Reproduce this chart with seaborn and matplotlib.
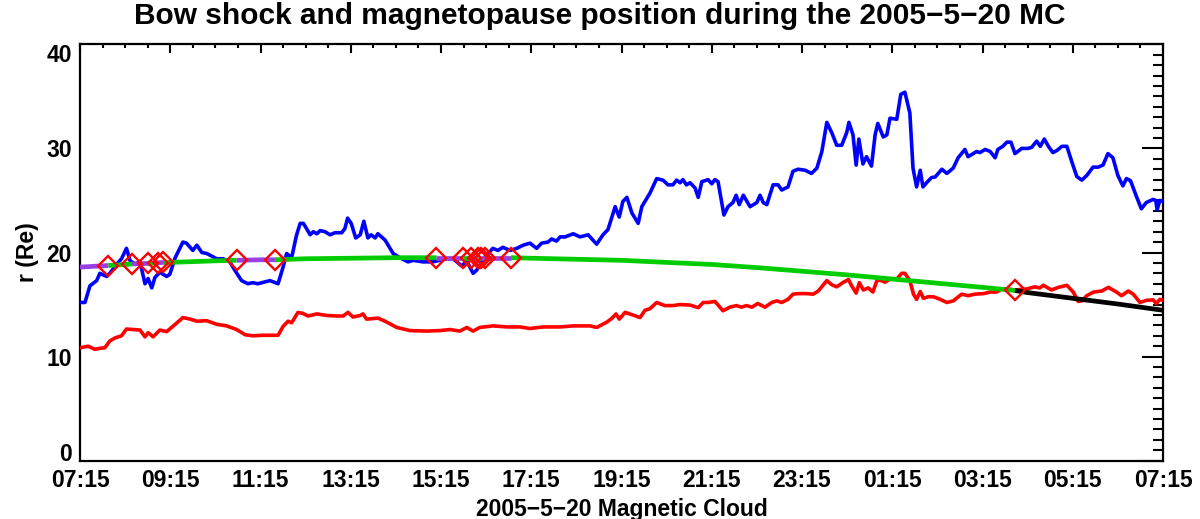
import numpy as np
import pandas as pd
import matplotlib
matplotlib.use("Agg")
import matplotlib.pyplot as plt
from matplotlib.ticker import MultipleLocator, FixedLocator, FixedFormatter
import seaborn as sns

# Time axis: hours elapsed since 2005-05-20 07:15 UT
tick_hours = [0, 2, 4, 6, 8, 10, 12, 14, 16, 18, 20, 22, 24]
tick_labels = ["07:15", "09:15", "11:15", "13:15", "15:15", "17:15", "19:15",
               "21:15", "23:15", "01:15", "03:15", "05:15", "07:15"]

# Observed bow shock distance (Re)
bs_hours = [0.00, 0.11, 0.22, 0.37, 0.44, 0.59, 0.66, 0.84, 0.92, 1.03, 1.11, 1.22, 1.33,
            1.44, 1.51, 1.59, 1.66, 1.77, 1.92, 1.99, 2.11, 2.28, 2.36, 2.50, 2.59, 2.70,
            2.81, 3.03, 3.17, 3.32, 3.43, 3.58, 3.72, 3.83, 3.94, 4.21, 4.39, 4.50, 4.58,
            4.69, 4.80, 4.88, 4.95, 5.02, 5.10, 5.17, 5.25, 5.32, 5.43, 5.54, 5.65, 5.80,
            5.87, 5.93, 6.01, 6.11, 6.21, 6.29, 6.38, 6.45, 6.54, 6.60, 6.76, 6.94, 7.09,
            7.27, 7.38, 7.60, 7.82, 8.13, 8.27, 8.46, 8.57, 8.71, 8.79, 8.98, 9.15, 9.26,
            9.37, 9.53, 9.68, 9.82, 9.97, 10.12, 10.23, 10.37, 10.45, 10.56, 10.64, 10.75,
            10.93, 11.08, 11.26, 11.45, 11.59, 11.70, 11.86, 11.95, 12.03, 12.12, 12.23,
            12.37, 12.45, 12.63, 12.78, 12.92, 13.03, 13.14, 13.22, 13.30, 13.36, 13.44,
            13.52, 13.63, 13.70, 13.78, 13.92, 14.00, 14.07, 14.14, 14.27, 14.36, 14.47,
            14.54, 14.61, 14.70, 14.85, 15.00, 15.07, 15.14, 15.22, 15.36, 15.47, 15.55,
            15.69, 15.80, 15.91, 16.07, 16.21, 16.33, 16.44, 16.55, 16.66, 16.77, 16.88,
            16.99, 17.04, 17.13, 17.20, 17.26, 17.35, 17.43, 17.54, 17.62, 17.68, 17.80,
            17.88, 17.95, 18.10, 18.19, 18.28, 18.39, 18.46, 18.54, 18.62, 18.68, 18.76,
            18.87, 18.95, 19.10, 19.21, 19.35, 19.46, 19.61, 19.68, 19.87, 19.94, 20.06,
            20.17, 20.28, 20.34, 20.45, 20.54, 20.63, 20.72, 20.87, 21.01, 21.09, 21.20,
            21.28, 21.37, 21.46, 21.56, 21.65, 21.76, 21.87, 21.98, 22.09, 22.20, 22.31,
            22.45, 22.56, 22.67, 22.78, 22.89, 23.00, 23.11, 23.19, 23.28, 23.41, 23.52,
            23.63, 23.78, 23.84, 23.87, 23.93, 24.00]
bs_r = [15.2, 15.2, 16.8, 17.3, 18.0, 17.7, 18.0, 19.0, 19.4, 20.4, 19.2, 18.9, 19.1,
        17.0, 17.5, 16.6, 17.6, 18.1, 17.7, 17.9, 19.5, 21.0, 20.9, 20.2, 20.7, 20.0,
        19.9, 19.4, 19.4, 19.1, 18.3, 17.3, 17.0, 17.1, 17.0, 17.3, 17.0, 18.6, 19.9,
        19.5, 21.7, 22.8, 22.8, 22.3, 21.7, 22.0, 21.8, 22.1, 22.0, 21.7, 21.9, 21.9,
        22.3, 23.3, 22.8, 21.4, 21.7, 23.0, 21.4, 21.7, 21.4, 21.8, 21.2, 19.9, 19.5,
        19.1, 19.25, 19.1, 19.1, 19.4, 19.4, 18.7, 19.2, 18.0, 18.3, 19.6, 20.4, 20.2,
        20.5, 20.2, 20.4, 20.7, 20.9, 20.4, 20.9, 21.0, 21.3, 21.1, 21.5, 21.5,
        21.8, 21.5, 21.7, 20.8, 21.7, 22.2, 24.4, 23.4, 24.9, 25.3, 23.8,
        22.8, 24.4, 25.7, 27.1, 26.95, 26.5, 26.5, 26.95, 26.7, 27.0, 26.5,
        26.7, 26.2, 25.3, 26.8, 27.0, 26.6, 27.0, 26.8, 23.6, 24.4, 24.8,
        25.5, 24.6, 25.5, 24.4, 24.8, 25.5, 24.8, 24.6, 26.5, 26.5, 26.0,
        26.3, 27.8, 28.0, 27.9, 27.6, 28.1, 29.7, 32.5, 31.5, 30.3, 30.3,
        31.5, 32.5, 31.3, 28.4, 30.9, 28.5, 29.2, 28.3, 31.3, 32.4, 31.1,
        31.3, 32.9, 32.8, 35.2, 35.4, 33.4, 28.1, 26.3, 27.9, 26.3, 26.7,
        27.2, 27.25, 28.0, 27.6, 28.1, 29.1, 29.9, 29.2, 29.7, 29.6, 29.9,
        29.7, 29.1, 29.9, 30.2, 30.6, 30.6, 29.5, 30.0, 30.0, 30.1, 30.7,
        30.2, 30.9, 30.2, 29.6, 29.8, 30.2, 30.2, 28.7, 27.3, 26.95, 27.4,
        28.2, 28.2, 28.4, 29.5, 29.1, 27.4, 26.4, 27.1, 26.9, 25.4, 24.2,
        24.8, 25.1, 25.0, 24.1, 25.0, 24.9]

# Observed magnetopause distance (Re)
mp_hours = [0.00, 0.18, 0.33, 0.44, 0.55, 0.66, 0.78, 0.92, 1.03, 1.33, 1.44, 1.51, 1.62,
            1.77, 1.92, 2.11, 2.28, 2.44, 2.59, 2.81, 3.03, 3.25, 3.47, 3.66, 3.83, 4.06,
            4.28, 4.39, 4.50, 4.61, 4.69, 4.83, 4.94, 5.05, 5.25, 5.47, 5.69, 5.83, 5.94,
            6.05, 6.21, 6.27, 6.35, 6.49, 6.60, 6.76, 7.02, 7.31, 7.68, 7.98, 8.20, 8.42,
            8.57, 8.71, 8.86, 9.15, 9.46, 9.75, 9.97, 10.26, 10.64, 10.93, 11.30, 11.45,
            11.67, 11.78, 11.88, 11.95, 12.08, 12.25, 12.41, 12.52, 12.63, 12.78, 12.96,
            13.14, 13.30, 13.52, 13.70, 13.81, 13.92, 14.07, 14.25, 14.40, 14.55, 14.66,
            14.77, 14.89, 15.02, 15.18, 15.33, 15.44, 15.55, 15.69, 15.80, 15.91, 16.10,
            16.25, 16.36, 16.55, 16.66, 16.77, 16.92, 17.03, 17.10, 17.20, 17.27, 17.36,
            17.47, 17.57, 17.66, 17.73, 17.84, 17.95, 18.10, 18.21, 18.28, 18.39, 18.47,
            18.54, 18.62, 18.69, 18.80, 18.91, 19.06, 19.21, 19.35, 19.54, 19.68, 19.83,
            20.02, 20.17, 20.31, 20.43, 20.54, 20.72, 20.98, 21.16, 21.27, 21.35, 21.53,
            21.68, 21.87, 22.01, 22.12, 22.20, 22.31, 22.46, 22.64, 22.79, 22.97, 23.08,
            23.23, 23.34, 23.49, 23.63, 23.78, 23.85, 23.93, 24.00]
mp_r = [10.85, 11.0, 10.7, 10.8, 10.85, 11.5, 11.8, 12.0, 12.65, 12.55, 11.9, 12.3, 11.9,
        12.55, 12.4, 13.1, 13.75, 13.6, 13.4, 13.45, 13.1, 12.95, 12.6, 12.1, 12.0, 12.05,
        12.05, 12.05, 12.9, 13.4, 13.25, 14.25, 14.15, 13.9, 14.1, 13.95, 13.9, 13.9, 14.25,
        13.8, 13.95, 14.1, 13.6, 13.65, 13.7, 13.4, 12.8, 12.5, 12.45, 12.5, 12.6, 12.45,
        12.8, 12.45, 12.8, 12.95, 12.85, 12.85, 12.7, 12.85, 12.85, 12.95, 12.95, 12.8,
        13.3, 13.65, 14.1, 13.6, 14.25, 14.0, 13.75, 14.45, 14.6, 15.2, 14.9,
        14.9, 15.0, 14.95, 14.7, 15.2, 15.2, 15.3, 14.4, 14.75, 14.9, 14.75,
        14.9, 14.75, 15.1, 14.75, 15.2, 15.35, 15.2, 15.5, 16.0, 16.05, 16.05,
        16.0, 16.3, 17.3, 16.9, 16.7, 17.15, 17.4, 16.8, 16.1, 17.1, 16.4,
        16.6, 16.2, 17.3, 17.35, 17.15, 17.45, 17.45, 18.0, 18.0, 17.3, 16.0,
        15.5, 16.25, 15.6, 15.75, 15.75, 15.5, 15.2, 15.35, 16.0, 15.85, 16.0,
        16.05, 16.2, 16.2, 16.5, 16.5, 16.4, 16.5, 16.7, 16.6, 16.85, 16.4,
        16.65, 16.85, 16.2, 15.3, 15.35, 15.85, 16.2, 16.3, 16.65, 16.2, 15.85,
        16.3, 16.0, 15.2, 15.4, 15.45, 15.1, 15.5, 15.4]

# Model boundary distance (Re), hourly
model_hours = list(range(25))
model_r = [18.6, 18.85, 19.05, 19.2, 19.3, 19.4, 19.45, 19.5, 19.5, 19.5, 19.45, 19.35,
           19.25, 19.05, 18.85, 18.55, 18.2, 17.85, 17.45, 17.05, 16.65, 16.15, 15.6,
           15.05, 14.45]

# Boundary crossings on the model curve
cross_hours = [0.63, 1.16, 1.51, 1.72, 1.84, 3.47, 4.32, 7.90, 8.49, 8.66, 8.83, 8.89,
               8.98, 9.55, 20.72]
cross_r = [18.75, 18.9, 18.95, 19.0, 19.05, 19.25, 19.3, 19.5, 19.5, 19.5, 19.5, 19.5,
           19.5, 19.5, 16.35]
# Colour of the model curve between consecutive crossings
segment_colors = ["#9A3FE6", "#00CC00", "#9A3FE6", "#00CC00", "#9A3FE6", "#00CC00",
                  "#9A3FE6", "#00CC00", "#9A3FE6", "#00CC00", "#9A3FE6", "#00CC00",
                  "#9A3FE6", "#9A3FE6", "#00CC00", "black"]

sns.set_style("white")
plt.rcParams["font.family"] = ["Liberation Sans", "DejaVu Sans"]
plt.rcParams["font.weight"] = "bold"
plt.rcParams["text.color"] = "black"
plt.rcParams["axes.labelcolor"] = "black"
plt.rcParams["xtick.color"] = "black"
plt.rcParams["ytick.color"] = "black"
plt.rcParams["xtick.labelcolor"] = "black"
plt.rcParams["ytick.labelcolor"] = "black"

fig = plt.figure(figsize=(12, 5.19), dpi=100)
ax = fig.add_axes([80 / 1200, 1 - 460.7 / 519, (1163 - 80) / 1200, (460.7 - 44.3) / 519])

bs = pd.DataFrame({"hours": bs_hours, "r": bs_r})
mp = pd.DataFrame({"hours": mp_hours, "r": mp_r})
sns.lineplot(data=bs, x="hours", y="r", color="#0000FF", lw=2.6, ax=ax, sort=False,
             estimator=None, zorder=3)
sns.lineplot(data=mp, x="hours", y="r", color="#FF0000", lw=2.6, ax=ax, sort=False,
             estimator=None, zorder=3)

# Model curve split into coloured segments at the crossings
bounds_h = [model_hours[0]] + cross_hours + [model_hours[-1]]
bounds_r = [model_r[0]] + cross_r + [model_r[-1]]
for i, col in enumerate(segment_colors):
    h0, h1 = bounds_h[i], bounds_h[i + 1]
    inner = [(h, r) for h, r in zip(model_hours, model_r) if h0 < h < h1]
    seg = pd.DataFrame({"hours": [h0] + [p[0] for p in inner] + [h1],
                        "r": [bounds_r[i]] + [p[1] for p in inner] + [bounds_r[i + 1]]})
    sns.lineplot(data=seg, x="hours", y="r", color=col, lw=3.4, ax=ax, sort=False,
                 estimator=None, zorder=4, solid_capstyle="butt")

ax.plot(cross_hours, cross_r, linestyle="none", marker="D", ms=10, mfc="none",
        mec="#FF0000", mew=1.7, zorder=5)

ax.set_xlim(0, 24)
ax.set_ylim(0, 40)
ax.xaxis.set_major_locator(FixedLocator(tick_hours))
ax.xaxis.set_major_formatter(FixedFormatter(tick_labels))
ax.xaxis.set_minor_locator(MultipleLocator(0.5))
ax.yaxis.set_major_locator(FixedLocator([0, 10, 20, 30, 40]))
ax.yaxis.set_minor_locator(MultipleLocator(1))

for s in ax.spines.values():
    s.set_linewidth(1.6)
    s.set_color("black")
ax.tick_params(axis="both", which="both", direction="in", color="black", width=1.5,
               top=True, right=True, labelsize=16.5, pad=6)
ax.tick_params(axis="x", which="major", length=6.5)
ax.tick_params(axis="x", which="minor", length=3)
ax.tick_params(axis="y", which="major", length=15)
ax.tick_params(axis="y", which="minor", length=7.5)

# Keep the end labels of the r axis inside the frame height
yticks = ax.yaxis.get_major_ticks()
yticks[0].label1.set_verticalalignment("baseline")
yticks[-1].label1.set_verticalalignment("top")
for lab in ax.get_xticklabels() + ax.get_yticklabels():
    lab.set_fontweight("bold")

fig.suptitle("Bow shock and magnetopause position during the 2005\u22125\u221220 MC",
             x=0.5, y=0.997, fontsize=21.5, fontweight="bold", va="top")
ax.set_xlabel("2005\u22125\u221220 Magnetic Cloud", fontsize=16.5, fontweight="bold",
              labelpad=4)
ax.set_ylabel("r (Re)", fontsize=16.5, fontweight="bold", labelpad=5)

fig.savefig("out.png", dpi=100)
